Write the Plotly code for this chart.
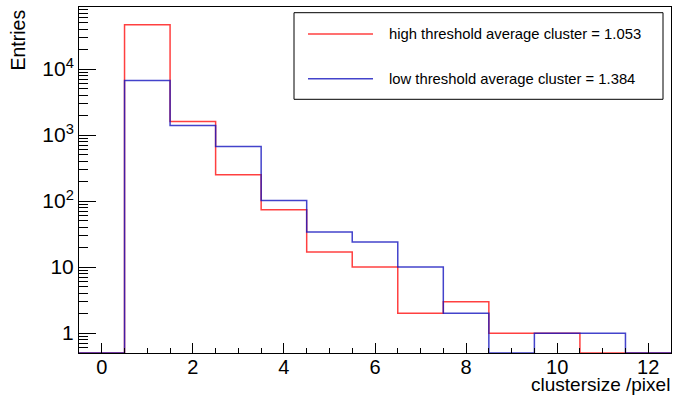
import numpy as np
import plotly.graph_objects as go

# ---- data ----
bin_centers = list(range(0, 13))
high_counts = [0, 46900, 1600, 250, 74, 17, 10, 2, 3, 1, 1, 0, 0]
low_counts = [0, 6700, 1400, 670, 102, 34, 24, 10, 2, 0, 1, 1, 0]
high_label = "high threshold average cluster = 1.053"
low_label = "low threshold average cluster = 1.384"
y_tickvals = [1, 10, 100, 1000, 10000]
y_ticktext = ["1", "10", "10<sup>2</sup>", "10<sup>3</sup>", "10<sup>4</sup>"]
x_tickvals = [0, 2, 4, 6, 8, 10, 12]
x_title = "clustersize /pixel"
y_title = "Entries"

# ---- style / geometry ----
W, H = 677, 395
L, R, T, B = 79, 6, 7, 42
YMIN, YMAX_LOG = 0.5, 4.94
FONT = "Liberation Sans, Arial, Helvetica, sans-serif"
RED = "rgba(255,0,0,0.75)"
BLUE = "rgba(20,20,190,0.8)"

PW = W - L - R
PH = H - T - B


def px(x):
    return (x - L) / PW


def py(y):
    return (H - B - y) / PH


def steps(centers, counts):
    edges = [c - 0.5 for c in centers] + [centers[-1] + 0.5]
    vals = [v if v > 0 else YMIN for v in counts]
    return edges, vals + [vals[-1]]


fig = go.Figure()
for counts, color, name in [(high_counts, RED, high_label), (low_counts, BLUE, low_label)]:
    xs, ys = steps(bin_centers, counts)
    fig.add_trace(go.Scatter(x=xs, y=ys, mode="lines", line=dict(color=color, width=1.5, shape="hv"),
                             name=name, showlegend=False, cliponaxis=True))

fig.update_layout(
    width=W, height=H,
    margin=dict(l=L, r=R, t=T, b=B),
    paper_bgcolor="white", plot_bgcolor="white",
    font=dict(family=FONT, color="black"),
    showlegend=False,
)

fig.update_xaxes(
    range=[-0.5, 12.5], tickmode="array", tickvals=x_tickvals,
    ticks="inside", ticklen=10, tickcolor="black", tickwidth=1,
    showline=True, linecolor="black", linewidth=1, mirror=True,
    showgrid=False, zeroline=False, ticklabelstandoff=-4,
    tickfont=dict(size=20, family=FONT, color="black"),
    minor=dict(ticks="inside", ticklen=5, dtick=0.5, tick0=0, tickcolor="black", showgrid=False),
)
fig.update_yaxes(
    type="log", range=[np.log10(YMIN), YMAX_LOG],
    tickmode="array", tickvals=y_tickvals, ticktext=y_ticktext,
    ticks="inside", ticklen=17, tickcolor="black", tickwidth=1,
    showline=True, linecolor="black", linewidth=1, mirror=True,
    showgrid=False, zeroline=False,
    tickfont=dict(size=21, family=FONT, color="black"),
    minor=dict(ticks="inside", ticklen=9, dtick="D1", tickcolor="black", showgrid=False),
)

# legend box (ROOT style)
fig.add_shape(type="rect", xref="paper", yref="paper",
              x0=px(294), x1=px(663), y0=py(99.3), y1=py(12.7),
              line=dict(color="black", width=1), fillcolor="white", layer="above")
for label, color, yy in [(high_label, RED, 34), (low_label, BLUE, 78.7)]:
    fig.add_shape(type="line", xref="paper", yref="paper",
                  x0=px(308), x1=px(373), y0=py(yy), y1=py(yy),
                  line=dict(color=color, width=1.5), layer="above")
    fig.add_annotation(xref="paper", yref="paper", x=px(387), y=py(yy),
                       text=label, showarrow=False, xanchor="left", yanchor="middle",
                       font=dict(size=14.8, family=FONT, color="black"))

# axis titles
fig.add_annotation(xref="paper", yref="paper", x=px(672), y=py(384.5),
                   text=x_title, showarrow=False, xanchor="right", yanchor="middle",
                   font=dict(size=19, family=FONT, color="black"))
fig.add_annotation(xref="paper", yref="paper", x=px(17), y=py(8),
                   text=y_title, showarrow=False, xanchor="center", yanchor="top",
                   textangle=-90, font=dict(size=19.5, family=FONT, color="black"))

fig.write_html("out.html")
